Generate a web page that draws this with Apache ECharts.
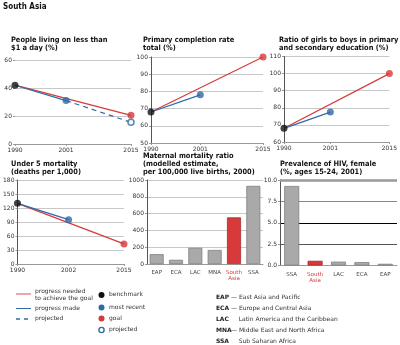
<!DOCTYPE html>
<html><head><meta charset="utf-8">
<script src="https://cdn.jsdelivr.net/npm/echarts@6/dist/echarts.min.js"></script>
<style>html,body{margin:0;padding:0;background:#fff}#c{width:400px;height:345px}</style>
</head><body><div id="c"></div>
<script>
// ---- data ----
const yearTicks1 = [1990, 2001, 2015];
const yearTicks4 = [1990, 2002, 2015];
// People living on less than $1 a day (%)
const povBenchmark = [1990, 42];
const povRecent = [2001, 31];
const povGoal = [2015, 20.5];
const povProjected = [2015, 15.5];
// Primary completion rate total (%)
const pcrBenchmark = [1990, 68];
const pcrRecent = [2001, 78];
const pcrGoal = [2015, 100];
// Ratio of girls to boys (%)
const gbBenchmark = [1990, 68];
const gbRecent = [2001, 77.5];
const gbGoal = [2015, 100];
// Under 5 mortality
const u5Benchmark = [1990, 130];
const u5Recent = [2002, 95];
const u5Goal = [2015, 43];
// Maternal mortality ratio
const mmrCats = ['EAP', 'ECA', 'LAC', 'MNA', 'South Asia', 'SSA'];
const mmrValues = [117, 50, 193, 167, 555, 930];
// HIV prevalence
const hivCats = ['SSA', 'South Asia', 'LAC', 'ECA', 'EAP'];
const hivValues = [9.3, 0.55, 0.45, 0.4, 0.2];

const RED = '#d63a3a', BLUE = '#2f6aa6', GRAY = '#a9a9a9';
const FONT = 'DejaVu Sans';
const TFONT = '"DejaVu Sans Condensed", "Liberation Sans Narrow", "Liberation Sans", sans-serif';
const lab = {fontSize: 6, color: '#333', fontFamily: FONT};

function yearAxis(gi, ticks) {
  return {type: 'value', gridIndex: gi, min: 1990, max: 2015,
    axisLine: {show: true, lineStyle: {color: '#999'}},
    axisTick: {show: true, customValues: ticks, length: 2, lineStyle: {color: '#999'}},
    axisLabel: Object.assign({customValues: ticks, margin: 3, formatter: v => String(v)}, lab),
    splitLine: {show: false}};
}
function valAxis(gi, min, max, interval, showLine, fmt) {
  return {type: 'value', gridIndex: gi, min, max, interval,
    axisLine: {show: showLine, lineStyle: {color: '#555'}},
    axisTick: {show: true, length: 2, lineStyle: {color: '#999'}},
    axisLabel: Object.assign({margin: 3, formatter: fmt || (v => String(v))}, lab),
    splitLine: {show: true, lineStyle: {color: '#c8c8c8', width: 1}}};
}
function catAxis(gi, cats) {
  return {type: 'category', gridIndex: gi, data: cats,
    axisLine: {show: true, lineStyle: {color: '#999'}},
    axisTick: {show: false},
    axisLabel: {margin: 6, interval: 0, fontSize: 5.5, fontFamily: FONT, color: '#444', lineHeight: 6,
      formatter: v => v === 'South Asia' ? '{r|South\nAsia}' : v,
      rich: {r: {color: RED, fontSize: 5.5, fontFamily: FONT, lineHeight: 6}}}};
}
function trendSeries(gi, b, r, g, p) {
  const s = [
    {type: 'line', xAxisIndex: gi, yAxisIndex: gi, data: [b, g], symbol: 'none', lineStyle: {color: RED, width: 1.2}, z: 2},
    {type: 'line', xAxisIndex: gi, yAxisIndex: gi, data: [b, r], symbol: 'none', lineStyle: {color: BLUE, width: 1.2}, z: 2},
  ];
  if (p) s.push({type: 'line', xAxisIndex: gi, yAxisIndex: gi, data: [r, p], symbol: 'none', lineStyle: {color: BLUE, width: 1.2, type: [5, 4]}, z: 2});
  s.push({type: 'scatter', xAxisIndex: gi, yAxisIndex: gi, data: [b], symbolSize: 7, itemStyle: {color: '#111'}, z: 5});
  s.push({type: 'scatter', xAxisIndex: gi, yAxisIndex: gi, data: [r], symbolSize: 7, itemStyle: {color: BLUE}, z: 5});
  s.push({type: 'scatter', xAxisIndex: gi, yAxisIndex: gi, data: [g], symbolSize: 7, itemStyle: {color: RED}, z: 5});
  if (p) s.push({type: 'scatter', xAxisIndex: gi, yAxisIndex: gi, data: [p], symbolSize: 6, itemStyle: {color: '#fff', borderColor: BLUE, borderWidth: 1.5}, z: 5});
  return s;
}

const titleStyle = {fontSize: 7.4, fontWeight: 'bold', fontFamily: TFONT, color: '#111', lineHeight: 8.3};
function ttl(text, left, top) { return {text, left, top, padding: 0, textStyle: titleStyle}; }

const chart = echarts.init(document.getElementById('c'), null, {renderer: 'canvas'});
const legendText = {fontSize: 6, fontFamily: FONT, fill: '#333'};
chart.setOption({
  animation: false,
  title: [
    {text: 'South Asia', left: 3, top: 3, padding: 0, textStyle: {fontSize: 8, fontWeight: 'bold', fontFamily: TFONT, color: '#111'}},
    ttl('People living on less than\n$1 a day (%)', 11, 35.5),
    ttl('Primary completion rate\ntotal (%)', 143, 35.5),
    ttl('Ratio of girls to boys in primary\nand secondary education (%)', 279, 35.5),
    ttl('Under 5 mortality\n(deaths per 1,000)', 11, 159.5),
    ttl('Maternal mortality ratio\n(modelled estimate,\nper 100,000 live births, 2000)', 143, 151.5),
    ttl('Prevalence of HIV, female\n(%, ages 15-24, 2001)', 280, 159.5),
  ],
  grid: [
    {left: 15, top: 60, width: 116, height: 84},
    {left: 151, top: 57, width: 112, height: 86},
    {left: 284, top: 56.5, width: 110, height: 85.5},
    {left: 15, top: 180, width: 109, height: 84},
    {left: 147, top: 180, width: 116, height: 84},
    {left: 280, top: 180, width: 117, height: 85.5},
  ],
  xAxis: [
    yearAxis(0, yearTicks1), yearAxis(1, yearTicks1), yearAxis(2, yearTicks1), yearAxis(3, yearTicks4),
    catAxis(4, mmrCats), catAxis(5, hivCats)
  ],
  yAxis: [
    valAxis(0, 0, 60, 20, false),
    valAxis(1, 50, 100, 10, true),
    valAxis(2, 60, 110, 10, true),
    valAxis(3, 0, 180, 30, true),
    valAxis(4, 0, 1000, 200, true),
    Object.assign(valAxis(5, 0, 10, 2.5, true, v => v.toFixed(1)),
      {splitLine: {show: true, lineStyle: {color: ['#999', '#555', '#000', '#888', '#999'], width: 1}}}),
  ],
  series: [
    ...trendSeries(0, povBenchmark, povRecent, povGoal, povProjected),
    ...trendSeries(1, pcrBenchmark, pcrRecent, pcrGoal),
    ...trendSeries(2, gbBenchmark, gbRecent, gbGoal),
    ...trendSeries(3, u5Benchmark, u5Recent, u5Goal),
    {type: 'bar', xAxisIndex: 4, yAxisIndex: 4, barWidth: 14,
      data: mmrValues.map((v, i) => ({value: v, itemStyle: {color: mmrCats[i] === 'South Asia' ? RED : GRAY, borderColor: mmrCats[i] === 'South Asia' ? '#a82828' : '#808080', borderWidth: 0.8}}))},
    {type: 'bar', xAxisIndex: 5, yAxisIndex: 5, barWidth: 15,
      data: hivValues.map((v, i) => ({value: v, itemStyle: {color: hivCats[i] === 'South Asia' ? RED : GRAY, borderColor: hivCats[i] === 'South Asia' ? '#a82828' : '#808080', borderWidth: 0.8}})),
      markLine: {silent: true, symbol: 'none', label: {show: false}, lineStyle: {color: '#999', width: 2.5, type: 'solid'}, data: [{yAxis: 10}]}},
  ],
  graphic: [
    // line legend
    {type: 'line', shape: {x1: 16, y1: 294, x2: 31, y2: 294}, style: {stroke: '#e88a8a', lineWidth: 1.5}},
    {type: 'text', left: 35, top: 288, style: Object.assign({text: 'progress needed\nto achieve the goal', lineHeight: 7}, legendText)},
    {type: 'line', shape: {x1: 16, y1: 308.5, x2: 31, y2: 308.5}, style: {stroke: BLUE, lineWidth: 1}},
    {type: 'text', left: 35, top: 305, style: Object.assign({text: 'progress made'}, legendText)},
    {type: 'line', shape: {x1: 16, y1: 319, x2: 31, y2: 319}, style: {stroke: BLUE, lineWidth: 1.5, lineDash: [4, 4]}},
    {type: 'text', left: 35, top: 315.5, style: Object.assign({text: 'projected'}, legendText)},
    // marker legend
    {type: 'circle', shape: {cx: 101.5, cy: 295, r: 3}, style: {fill: '#111'}},
    {type: 'text', left: 109, top: 291.5, style: Object.assign({text: 'benchmark'}, legendText)},
    {type: 'circle', shape: {cx: 101.5, cy: 307.5, r: 3}, style: {fill: BLUE}},
    {type: 'text', left: 109, top: 304, style: Object.assign({text: 'most recent'}, legendText)},
    {type: 'circle', shape: {cx: 101.5, cy: 318.5, r: 3}, style: {fill: RED}},
    {type: 'text', left: 109, top: 315, style: Object.assign({text: 'goal'}, legendText)},
    {type: 'circle', shape: {cx: 101.5, cy: 330, r: 2.6}, style: {fill: '#fff', stroke: BLUE, lineWidth: 1.4}},
    {type: 'text', left: 109, top: 326.5, style: Object.assign({text: 'projected'}, legendText)},
    // region legend
    ...[['EAP', '—', 'East Asia and Pacific', 297.5], ['ECA', '—', 'Europe and Central Asia', 308.5],
        ['LAC', '', 'Latin America and the Caribbean', 319.5], ['MNA', '—', 'Middle East and North Africa', 330.5],
        ['SSA', '', 'Sub Saharan Africa', 341.5]].flatMap(([a, d, t, y]) => [
      {type: 'text', left: 216, top: y - 3.5, style: {text: a, fontSize: 6, fontWeight: 'bold', fontFamily: FONT, fill: '#222'}},
      {type: 'text', left: 231, top: y - 3.5, style: Object.assign({text: d ? d + ' ' + t : '    ' + t}, legendText)},
    ]),
  ]
});
</script></body></html>
